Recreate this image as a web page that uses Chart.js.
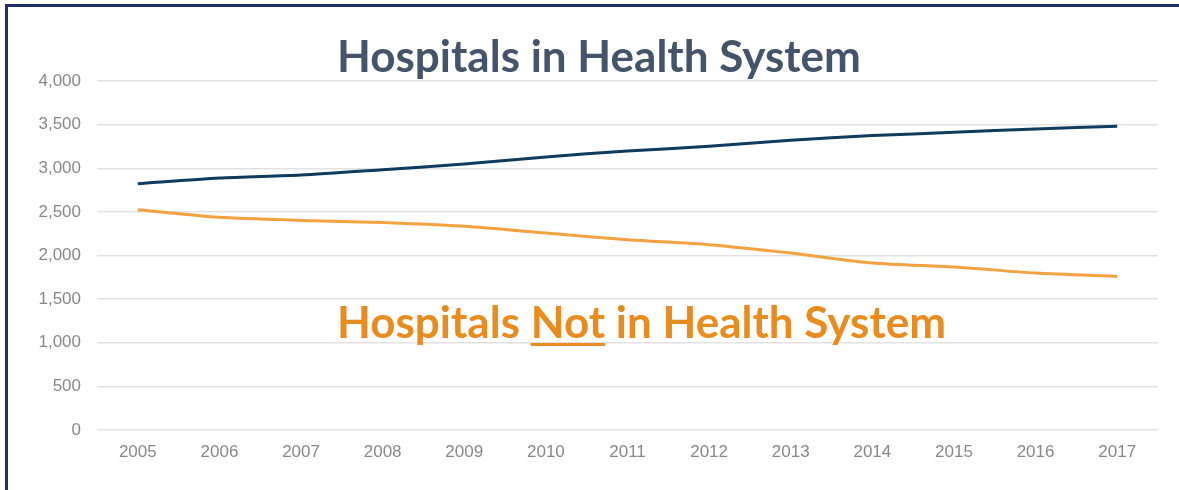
<!DOCTYPE html>
<html>
<head>
<meta charset="utf-8">
<script src="https://cdn.jsdelivr.net/npm/chart.js@4.4.1/dist/chart.umd.min.js"></script>
<style>
  html, body { margin: 0; padding: 0; background: #ffffff; }
  #wrap { position: relative; width: 1179px; height: 490px; overflow: hidden; background: #ffffff; }
  #frame { position: absolute; left: 5px; top: 4px; width: 1200px; height: 520px; border: 3px solid #1c2e6c; box-sizing: border-box; pointer-events: none; }
  #chartBox { position: absolute; left: 0; top: 0; width: 1179px; height: 490px; }
  .lbl { position: absolute; font-family: Lato, "Open Sans", sans-serif; font-weight: 700; font-size: 44px; line-height: 44px; white-space: nowrap; }
  #title { left: 337px; top: 33px; color: #44546a; }
  #note { left: 337px; top: 299px; color: #e98c1f; }
  #note u { text-decoration-thickness: 3px; text-underline-offset: 5px; }
</style>
</head>
<body>
<div id="wrap">
  <div id="chartBox"><canvas id="c"></canvas></div>
  <div id="frame"></div>
  <div class="lbl" id="title">Hospitals in Health System</div>
  <div class="lbl" id="note">Hospitals <u>Not</u> in Health System</div>
</div>
<script>
const years = ['2005','2006','2007','2008','2009','2010','2011','2012','2013','2014','2015','2016','2017'];
const inSystem = [2823, 2889, 2923, 2984, 3049, 3130, 3198, 3251, 3320, 3374, 3412, 3451, 3481];
const notInSystem = [2525, 2437, 2402, 2379, 2334, 2258, 2181, 2124, 2028, 1914, 1868, 1799, 1760];
const yTicks = [0, 500, 1000, 1500, 2000, 2500, 3000, 3500, 4000];

new Chart(document.getElementById('c'), {
  type: 'line',
  data: {
    labels: years,
    datasets: [
      { label: 'Hospitals in Health System', data: inSystem, borderColor: '#0f3b5f', borderWidth: 3, pointRadius: 0, tension: 0.25, fill: false },
      { label: 'Hospitals Not in Health System', data: notInSystem, borderColor: '#f4a240', borderWidth: 3, pointRadius: 0, tension: 0.25, fill: false }
    ]
  },
  options: {
    responsive: true,
    maintainAspectRatio: false,
    animation: false,
    layout: { padding: { left: 0, right: 21, top: 81, bottom: 0 } },
    plugins: { legend: { display: false }, tooltip: { enabled: false }, title: { display: false } },
    scales: {
      x: {
        offset: true,
        grid: { display: false, drawTicks: false },
        border: { display: false },
        ticks: { color: '#888888', font: { family: '"Liberation Sans", Arial, sans-serif', size: 17 }, padding: 12, maxRotation: 0 },
        afterFit: (s) => { s.height = 60; }
      },
      y: {
        min: 0, max: 4000,
        afterBuildTicks: (s) => { s.ticks = yTicks.map(v => ({ value: v })); },
        grid: { color: '#e2e2e2', lineWidth: 1.5, drawTicks: false },
        border: { display: false },
        ticks: { color: '#888888', font: { family: '"Liberation Sans", Arial, sans-serif', size: 17 }, padding: 16,
                 callback: (v) => v.toLocaleString('en-US') },
        afterFit: (s) => { s.width = 97; }
      }
    }
  }
});
</script>
</body>
</html>
